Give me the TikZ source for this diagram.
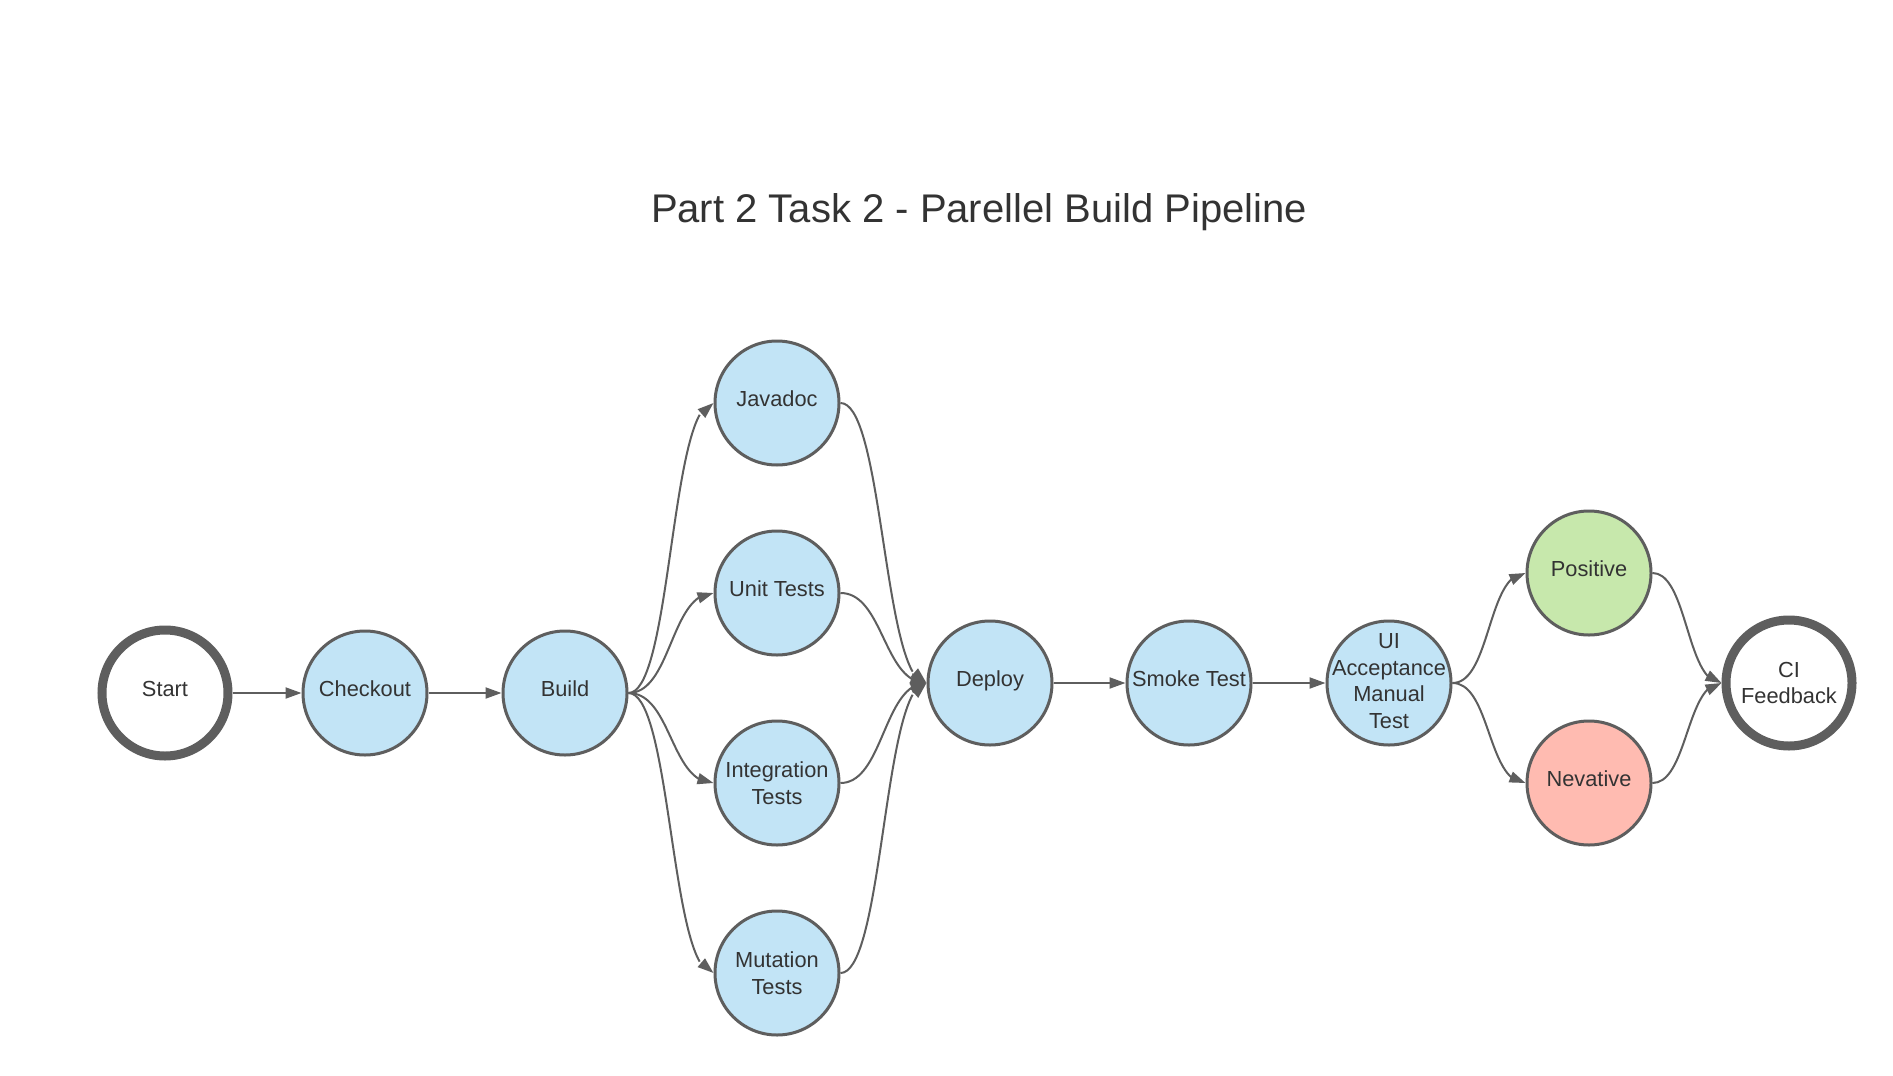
\documentclass[tikz,border=0pt]{standalone}
\usepackage{fontspec}
\setmainfont{Liberation Sans}
\usetikzlibrary{arrows.meta,bending}
\definecolor{edgegray}{HTML}{5E5E5E}
\definecolor{bluefill}{HTML}{C2E4F6}
\definecolor{greenfill}{HTML}{C7E8AC}
\definecolor{redfill}{HTML}{FFBBB1}
\definecolor{txt}{HTML}{333333}
\begin{document}
\begin{tikzpicture}[x=1pt,y=-1pt,
  stagetext/.style={align=center, text=txt, font=\fontsize{21.8}{26.7}\selectfont, inner sep=0pt},
  stage/.style={circle, draw=edgegray, line width=3pt, fill=bluefill, minimum size=124pt,
    inner sep=0pt, stagetext},
  oneline/.style={text height=15.6pt, text depth=8pt},
  term/.style={stage, fill=white, line width=9pt, minimum size=126pt},
  conn/.style={draw=edgegray, line width=2pt, -{Triangle[length=16pt,width=11pt]}},
  curve/.style={conn, out=0, in=180, distance=#1},
]
\useasboundingbox[fill=white] (0,0) rectangle (1893,1076);
\node[text=txt, font=\fontsize{40}{48}\selectfont, anchor=base] (title) at (979,222)
  {Part 2 Task 2 - Parellel Build Pipeline};

\node[term, oneline] (start) at (165,693) {Start};
\node[stage, oneline] (checkout) at (365,693) {Checkout};
\node[stage, oneline] (build) at (565,693) {Build};
\node[stage, oneline] (javadoc) at (777,403) {Javadoc};
\node[stage, oneline] (unit) at (777,593) {Unit Tests};
\node[stage] (integ) at (777,783) {Integration\\Tests};
\node[stage] (mutation) at (777,973) {Mutation\\Tests};
\node[stage, oneline] (deploy) at (990,683) {Deploy};
\node[stage, oneline] (smoke) at (1189,683) {Smoke Test};
\node[stage, label={[stagetext, yshift=2pt]center:{UI\\Acceptance\\Manual\\Test}}] (ui) at (1389,683) {};
\node[stage, oneline, fill=greenfill] (positive) at (1589,573) {Positive};
\node[stage, oneline, fill=redfill] (negative) at (1589,783) {Nevative};
\node[term] (ci) at (1789,683) {CI\\Feedback};

\draw[conn] (start) -- (checkout);
\draw[conn] (checkout) -- (build);
\foreach \t in {javadoc,unit,integ,mutation}{
  \draw[curve=43pt] (build.east) to (\t.west);
  \draw[curve=43pt] (\t.east) to (deploy.west);
}
\draw[conn] (deploy) -- (smoke);
\draw[conn] (smoke) -- (ui);
\draw[curve=38pt] (ui.east) to (positive.west);
\draw[curve=38pt] (ui.east) to (negative.west);
\draw[curve=35pt] (positive.east) to (ci.west);
\draw[curve=35pt] (negative.east) to (ci.west);
\end{tikzpicture}
\end{document}
